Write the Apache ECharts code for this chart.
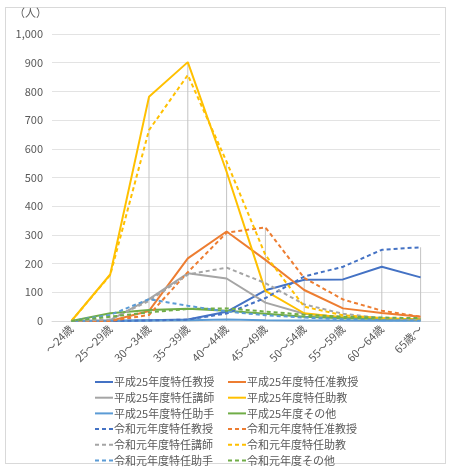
<!DOCTYPE html>
<html>
<head>
<meta charset="utf-8">
<script src="https://cdn.jsdelivr.net/npm/echarts@6/dist/echarts.min.js"></script>
<style>
html,body{margin:0;padding:0;background:#fff;}
#frame{position:absolute;left:5px;top:7px;width:441px;height:457px;border:1px solid #d9d9d9;box-sizing:border-box;}
#chart{position:absolute;left:0;top:0;width:452px;height:467px;}
</style>
</head>
<body>
<div id="frame"></div>
<div id="chart"></div>
<script>
const categories = ['～24歳','25～29歳','30～34歳','35～39歳','40～44歳','45～49歳','50～54歳','55～59歳','60～64歳','65歳～'];
const yTicks = [0, 100, 200, 300, 400, 500, 600, 700, 800, 900, 1000];

const h25Prof      = [0, 0, 3, 5, 32, 107, 144, 145, 189, 152];
const h25Assoc     = [0, 0, 35, 218, 312, 213, 108, 44, 28, 15];
const h25Lect      = [0, 3, 76, 166, 148, 64, 25, 12, 8, 5];
const h25AsstProf  = [0, 162, 781, 902, 520, 105, 27, 12, 8, 5];
const h25Asst      = [0, 1, 2, 3, 5, 3, 2, 2, 1, 1];
const h25Other     = [0, 27, 38, 43, 36, 25, 15, 10, 8, 5];
const r1Prof       = [0, 0, 2, 5, 26, 80, 155, 189, 248, 257];
const r1Assoc      = [0, 0, 21, 170, 308, 326, 150, 75, 36, 15];
const r1Lect       = [0, 5, 70, 162, 186, 132, 58, 25, 10, 5];
const r1AsstProf   = [0, 160, 665, 857, 555, 230, 50, 20, 10, 5];
const r1Asst       = [0, 21, 76, 53, 33, 20, 12, 6, 3, 2];
const r1Other      = [0, 15, 30, 42, 44, 33, 22, 15, 12, 10];

const seriesDefs = [
  ['平成25年度特任教授', h25Prof, '#4472C4', 'solid'],
  ['平成25年度特任准教授', h25Assoc, '#ED7D31', 'solid'],
  ['平成25年度特任講師', h25Lect, '#A5A5A5', 'solid'],
  ['平成25年度特任助教', h25AsstProf, '#FFC000', 'solid'],
  ['平成25年度特任助手', h25Asst, '#5B9BD5', 'solid'],
  ['平成25年度その他', h25Other, '#70AD47', 'solid'],
  ['令和元年度特任教授', r1Prof, '#4472C4', 'dashed'],
  ['令和元年度特任准教授', r1Assoc, '#ED7D31', 'dashed'],
  ['令和元年度特任講師', r1Lect, '#A5A5A5', 'dashed'],
  ['令和元年度特任助教', r1AsstProf, '#FFC000', 'dashed'],
  ['令和元年度特任助手', r1Asst, '#5B9BD5', 'dashed'],
  ['令和元年度その他', r1Other, '#70AD47', 'dashed']
];

const dropMax = categories.map((c, i) => Math.max(...seriesDefs.map(s => s[1][i])));

const FONT = '"Noto Sans CJK JP", "Noto Sans", sans-serif';
const TXT = '#595959';

const lineSeries = seriesDefs.map(s => ({
  name: s[0],
  type: 'line',
  data: s[1],
  symbol: 'none',
  z: 3,
  color: s[2],
  lineStyle: { color: s[2], width: 2, type: s[3] === 'dashed' ? [4, 3] : 'solid' },
  itemStyle: { color: s[2] }
}));

const leftNames = [0, 2, 4, 6, 8, 10].map(i => seriesDefs[i][0]);
const rightNames = [1, 3, 5, 7, 9, 11].map(i => seriesDefs[i][0]);

const legendCommon = {
  orient: 'vertical',
  top: 371,
  height: 120,
  itemGap: 3.7,
  itemWidth: 18,
  itemHeight: 10,
  itemStyle: { opacity: 0 },
  textStyle: { fontFamily: FONT, fontSize: 11, lineHeight: 12, color: TXT, padding: [0, 0, 0, -4] }
};

const chart = echarts.init(document.getElementById('chart'), null, { renderer: 'canvas' });
chart.setOption({
  animation: false,
  backgroundColor: 'transparent',
  textStyle: { fontFamily: FONT },
  graphic: [{
    type: 'text', left: 14, top: 7,
    style: { text: '（人）', fontFamily: FONT, fontSize: 11, fill: TXT }
  }],
  legend: [
    Object.assign({}, legendCommon, { left: 89, data: leftNames }),
    Object.assign({}, legendCommon, { left: 222, data: rightNames })
  ],
  grid: { left: 52, right: 12, top: 34, height: 287 },
  xAxis: {
    type: 'category',
    data: categories,
    boundaryGap: true,
    axisLine: { show: true, lineStyle: { color: '#d9d9d9', width: 1 } },
    axisTick: { show: false },
    axisLabel: { rotate: 45, fontFamily: FONT, fontSize: 11, color: TXT, margin: 6, interval: 0 }
  },
  yAxis: {
    type: 'value',
    min: yTicks[0],
    max: yTicks[yTicks.length - 1],
    interval: yTicks[1] - yTicks[0],
    axisLine: { show: false },
    axisTick: { show: false },
    splitLine: { lineStyle: { color: '#e3e3e3', width: 1 } },
    axisLabel: {
      fontFamily: FONT, fontSize: 11, color: TXT, margin: 9,
      formatter: v => v.toLocaleString('en-US')
    }
  },
  series: [{
    name: 'drop',
    type: 'bar',
    data: dropMax,
    barWidth: 1,
    z: 1,
    itemStyle: { color: '#c4c4c4' },
    silent: true
  }].concat(lineSeries)
});
</script>
</body>
</html>
